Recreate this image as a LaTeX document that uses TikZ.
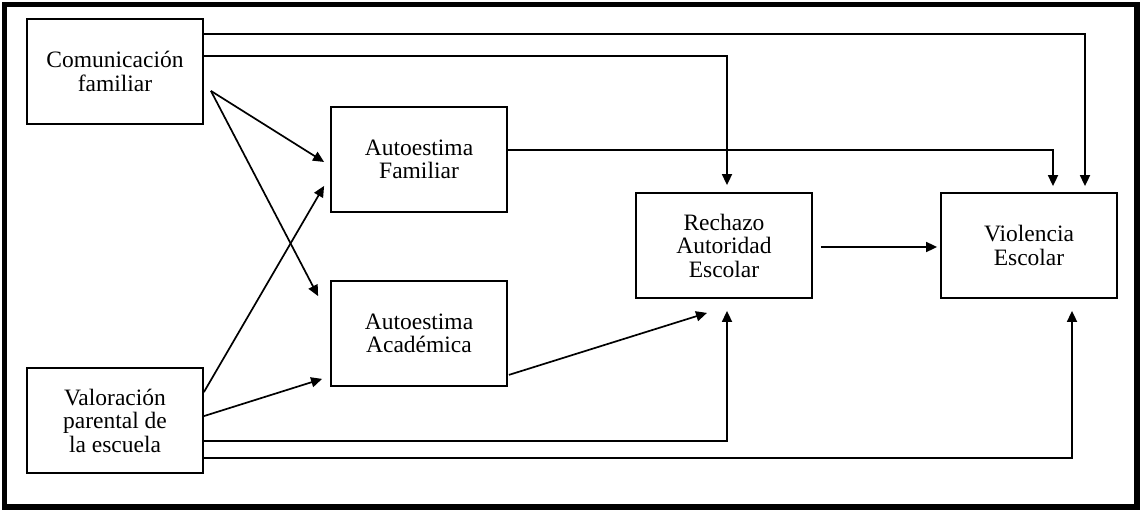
\documentclass[tikz,border=0pt]{standalone}
\usepackage{fontspec}
\setmainfont{Liberation Serif}
\usetikzlibrary{arrows.meta}
\begin{document}
\begin{tikzpicture}[x=1pt,y=-1pt,
  box/.style={draw=black, line width=1.8pt, minimum width=176pt, minimum height=105pt,
    inner sep=0pt, align=center, font=\fontsize{23.5}{23.5}\selectfont},
  arr/.style={draw=black, line width=1.7pt, -{Triangle[length=11pt,width=10pt]}}]
\useasboundingbox (0,0) rectangle (1140,510);
\fill[white] (0,0) rectangle (1140,510);
\draw[line width=5.5pt] (4.5,4.5) rectangle (1137,507);

\node[box] (CF) at (115,71.5) {Comunicación\\familiar};
\node[box] (AF) at (419,159.5) {Autoestima\\Familiar};
\node[box] (AA) at (419,333.5) {Autoestima\\Académica};
\node[box] (VP) at (115,420.5) {Valoración\\parental de\\la escuela};
\node[box] (RA) at (724,245.5) {Rechazo\\Autoridad\\Escolar};
\node[box] (VE) at (1029,245.5) {Violencia\\Escolar};

% long top connectors
\draw[arr] ([yshift=-16pt]CF.north east) -| ([xshift=56pt,yshift=6pt]VE.north);
\draw[arr] ([yshift=-38pt]CF.north east) -| ([xshift=3pt,yshift=7pt]RA.north);
\draw[arr] ([yshift=9.5pt]AF.east) -| ([xshift=24pt,yshift=6pt]VE.north);

% diagonal connectors
\coordinate (cfo) at ([xshift=7pt,yshift=34pt]CF.south east);
\draw[arr] (cfo) -- ([xshift=-6pt,yshift=-2.5pt]AF.west);
\draw[arr] (cfo) -- ([xshift=-12pt,yshift=-16pt]AA.north west);
\draw[arr] ([yshift=-25pt]VP.north east) -- ([xshift=-6pt,yshift=27pt]AF.south west);
\draw[arr] ([yshift=-49pt]VP.north east) -- ([xshift=-8pt,yshift=8pt]AA.south west);
\draw[arr] ([xshift=1pt,yshift=12pt]AA.south east) -- ([xshift=-17pt,yshift=-14pt]RA.south);

% bottom connectors
\draw[arr] ([yshift=33pt]VP.south east) -| ([xshift=3pt,yshift=-12pt]RA.south);
\draw[arr] ([yshift=16pt]VP.south east) -| ([xshift=43pt,yshift=-12pt]VE.south);

% RA -> VE
\draw[arr] ([xshift=8pt,yshift=-1.5pt]RA.east) -- ([xshift=-3pt,yshift=-1.5pt]VE.west);
\end{tikzpicture}
\end{document}
